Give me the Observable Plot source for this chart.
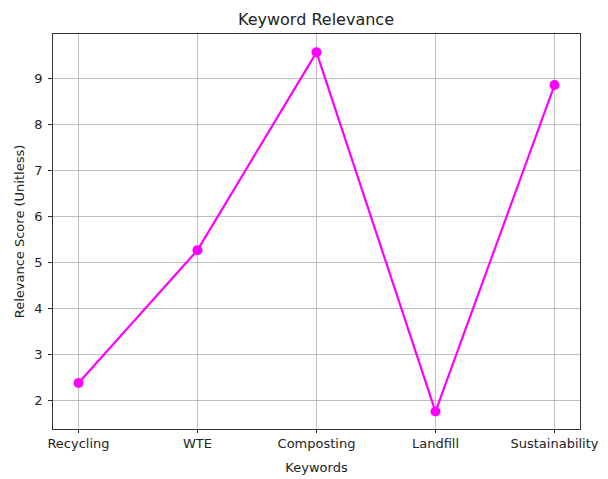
<!DOCTYPE html>
<html>
<head>
<meta charset="utf-8">
<script src="https://cdn.jsdelivr.net/npm/d3@7"></script>
<script src="https://cdn.jsdelivr.net/npm/@observablehq/plot@0.6"></script>
<style>
  body { margin: 0; background: #fff; font-family: "DejaVu Sans", sans-serif; }
  #title { height: 32px; width: 608px; box-sizing: border-box; padding-left: 52px; padding-right: 28px;
           text-align: center; font-size: 16px; line-height: 39px; color: #222; }
</style>
</head>
<body>
<div id="title">Keyword Relevance</div>
<div id="chart"></div>
<script>
// datos
const keywords = ["Recycling", "WTE", "Composting", "Landfill", "Sustainability"];
const scores = [2.38, 5.27, 9.57, 1.76, 8.86];
const yTicks = [2, 3, 4, 5, 6, 7, 8, 9];

const data = keywords.map((k, i) => ({keyword: k, score: scores[i]}));

let chart = Plot.plot({
  width: 608,
  height: 447,
  marginLeft: 52,
  marginRight: 28,
  marginTop: 1,
  marginBottom: 50,
  style: {fontFamily: "DejaVu Sans, sans-serif", fontSize: "13px", color: "#222", background: "#fff"},
  x: {type: "point", domain: keywords, padding: 0.2},
  y: {domain: [1.37, 9.98]},
  marks: [
    Plot.gridX(keywords, {stroke: "#a8a8a8", strokeOpacity: 0.75}),
    Plot.gridY(yTicks, {stroke: "#a8a8a8", strokeOpacity: 0.75}),
    Plot.axisY(yTicks, {tickSize: 4, tickPadding: 6, label: "Relevance Score (Unitless)", labelAnchor: "center", labelArrow: "none", labelOffset: 38}),
    Plot.axisX(keywords, {tickSize: 4, tickPadding: 5, label: "Keywords", labelAnchor: "center", labelArrow: "none", labelOffset: 42}),
    Plot.line(data, {x: "keyword", y: "score", stroke: "#ff00ff", strokeWidth: 2.2}),
    Plot.dot(data, {x: "keyword", y: "score", fill: "#ff00ff", r: 5}),
    Plot.frame({stroke: "#333"})
  ]
});

d3.select('#chart').append(() => chart);
</script>
</body>
</html>
